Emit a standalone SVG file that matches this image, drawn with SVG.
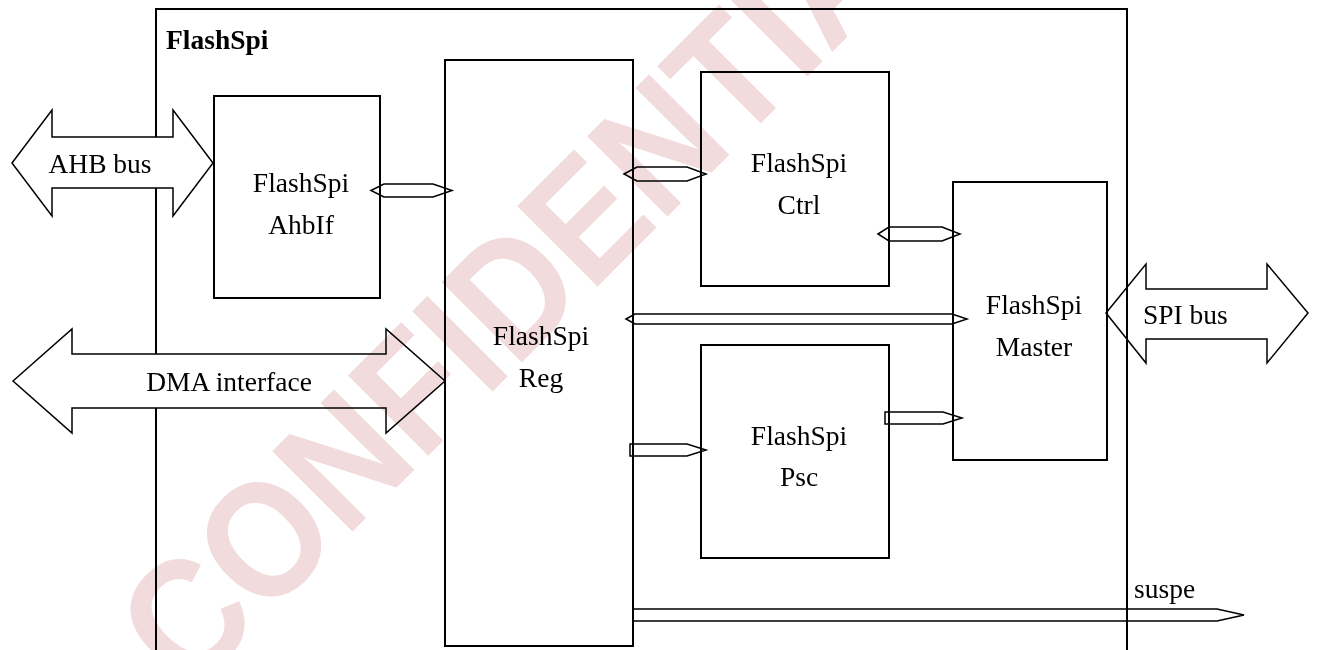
<svg xmlns="http://www.w3.org/2000/svg" width="1318" height="650" viewBox="0 0 1318 650">
<style>
.box{fill:none;stroke:#000;stroke-width:2}
.bus{fill:#fff;stroke:#000;stroke-width:1.5;stroke-linejoin:miter}
.conn{fill:none;stroke:#000;stroke-width:1.5;stroke-linejoin:miter}
.lbl{font-family:"Liberation Serif","Times New Roman",serif;font-size:27.5px;fill:#000}
.c{text-anchor:middle}
.wm{font-family:"Liberation Sans",Arial,sans-serif;font-weight:bold;font-size:165px;fill:#f1dbdc}
</style>
<rect width="1318" height="650" fill="#fff"/>
<g id="spi-bus">
<polygon class="conn" points="1106,313 1146,264 1146,289 1267,289 1267,264 1308,313 1267,363 1267,339 1146,339 1146,363"/>
<text class="lbl" x="1143" y="324">SPI bus</text>
</g>
<g id="flashspi">
<rect class="box" x="156" y="9" width="971" height="700"/>
<text class="lbl" x="166" y="49" font-weight="bold">FlashSpi</text>
</g>
<g id="ahb-bus">
<polygon class="bus" points="12,163 52,110 52,137 173,137 173,110 213,163 173,216 173,188 52,188 52,216"/>
<text class="lbl c" x="100" y="173">AHB bus</text>
</g>
<g id="dma-interface">
<polygon class="bus" points="13,381 72,329 72,354 386,354 386,329 445,381 386,433 386,408 72,408 72,433"/>
<text class="lbl c" x="229" y="391">DMA interface</text>
</g>
<g id="ahbif">
<rect class="box" x="214" y="96" width="166" height="202"/>
<text class="lbl c" x="301" y="192">FlashSpi</text>
<text class="lbl c" x="301" y="234">AhbIf</text>
</g>
<g id="reg">
<rect class="box" x="445" y="60" width="188" height="586"/>
<text class="lbl c" x="541" y="345">FlashSpi</text>
<text class="lbl c" x="541" y="387">Reg</text>
</g>
<g id="ctrl">
<rect class="box" x="701" y="72" width="188" height="214"/>
<text class="lbl c" x="799" y="172">FlashSpi</text>
<text class="lbl c" x="799" y="214">Ctrl</text>
</g>
<g id="psc">
<rect class="box" x="701" y="345" width="188" height="213"/>
<text class="lbl c" x="799" y="445">FlashSpi</text>
<text class="lbl c" x="799" y="486">Psc</text>
</g>
<g id="master">
<rect class="box" x="953" y="182" width="154" height="278"/>
<text class="lbl c" x="1034" y="314">FlashSpi</text>
<text class="lbl c" x="1034" y="356">Master</text>
</g>
<g id="connectors">
<polygon class="conn" points="371,190.5 384,184 433,184 452,190.5 433,197 384,197"/>
<polygon class="conn" points="624,174 637,167 687,167 706,174 687,181 637,181"/>
<polygon class="conn" points="878,234 889,227 942,227 960,234 942,241 889,241"/>
<polygon class="conn" points="626,319 635,314 952,314 967,319 952,324 635,324"/>
<polygon class="conn" points="630,444 687,444 706,450 687,456 630,456"/>
<polygon class="conn" points="885,412 943,412 962,418 943,424 885,424"/>
<polygon class="conn" points="633,609 1217,609 1244,615 1217,621 633,621"/>
<text class="lbl" x="1134" y="598">suspe</text>
</g>
<g id="watermark" style="mix-blend-mode:multiply">
<text class="wm" transform="translate(188,696) rotate(-45) scale(0.9,1)">CONFIDENTIAL</text>
</g>
</svg>
